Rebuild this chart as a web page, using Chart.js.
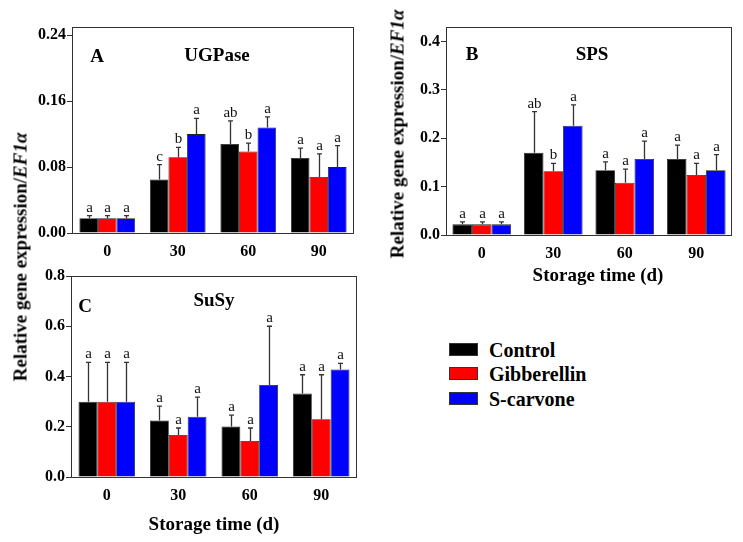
<!DOCTYPE html>
<html>
<head>
<meta charset="utf-8">
<script src="https://cdn.jsdelivr.net/npm/chart.js@4"></script>
<style>
html,body{margin:0;padding:0;background:#fff;}
#wrap{position:relative;width:743px;height:542px;overflow:hidden;font-family:"Liberation Serif","Times New Roman",serif;color:#000;}
canvas{position:absolute;}
.ytitle{position:absolute;white-space:nowrap;font-weight:bold;font-size:19px;line-height:1;transform:translate(-50%,-50%) rotate(-90deg);}
.xtitle{position:absolute;white-space:nowrap;font-weight:bold;font-size:19px;line-height:1;transform:translate(-50%,-50%);}
.legrow{position:absolute;left:449px;height:14px;}
.legbox{position:absolute;left:0;top:0;width:29px;height:13px;border:1px solid #333;box-sizing:border-box;}
.legtxt{position:absolute;left:40px;top:50%;transform:translateY(-50%);font-weight:bold;font-size:20px;white-space:nowrap;line-height:1;}
</style>
</head>
<body>
<div id="wrap">
  <canvas id="cA" width="370" height="260" style="left:0;top:0;"></canvas>
  <canvas id="cB" width="373" height="300" style="left:370px;top:0;"></canvas>
  <canvas id="cC" width="370" height="282" style="left:0;top:260px;"></canvas>
  <div class="ytitle" style="left:20px;top:257px;">Relative gene expression/<i>EF1α</i></div>
  <div class="ytitle" style="left:397px;top:134px;">Relative gene expression/<i>EF1α</i></div>
  <div class="xtitle" style="left:598px;top:274px;">Storage time (d)</div>
  <div class="legrow" style="top:343px;"><div class="legbox" style="background:#000;"></div><div class="legtxt">Control</div></div>
  <div class="legrow" style="top:367px;"><div class="legbox" style="background:#ff0000;"></div><div class="legtxt">Gibberellin</div></div>
  <div class="legrow" style="top:392px;"><div class="legbox" style="background:#0000ff;"></div><div class="legtxt">S-carvone</div></div>
</div>
<script>
// ---------- data ----------
const categories = ['0', '30', '60', '90'];
const seriesNames = ['Control', 'Gibberellin', 'S-carvone'];

// Panel A: UGPase
const ugpControl = [0.018, 0.065, 0.108, 0.091];
const ugpGib     = [0.018, 0.092, 0.099, 0.068];
const ugpCarv    = [0.018, 0.120, 0.128, 0.080];
const ugpControlErr = [0.003, 0.018, 0.028, 0.012];
const ugpGibErr     = [0.003, 0.012, 0.010, 0.028];
const ugpCarvErr    = [0.003, 0.019, 0.013, 0.026];
const ugpControlSig = ['a', 'c', 'ab', 'a'];
const ugpGibSig     = ['a', 'b', 'b', 'a'];
const ugpCarvSig    = ['a', 'a', 'a', 'a'];
const ugpTicks = [0, 0.08, 0.16, 0.24];

// Panel B: SPS
const spsControl = [0.022, 0.170, 0.134, 0.157];
const spsGib     = [0.022, 0.132, 0.108, 0.124];
const spsCarv    = [0.022, 0.226, 0.157, 0.134];
const spsControlErr = [0.005, 0.085, 0.017, 0.029];
const spsGibErr     = [0.005, 0.016, 0.028, 0.024];
const spsCarvErr    = [0.005, 0.043, 0.037, 0.032];
const spsControlSig = ['a', 'ab', 'a', 'a'];
const spsGibSig     = ['a', 'b', 'a', 'a'];
const spsCarvSig    = ['a', 'a', 'a', 'a'];
const spsTicks = [0, 0.1, 0.2, 0.3, 0.4];

// Panel C: SuSy
const susyControl = [0.300, 0.225, 0.201, 0.332];
const susyGib     = [0.300, 0.167, 0.143, 0.230];
const susyCarv    = [0.300, 0.240, 0.366, 0.428];
const susyControlErr = [0.156, 0.057, 0.045, 0.075];
const susyGibErr     = [0.156, 0.028, 0.052, 0.177];
const susyCarvErr    = [0.156, 0.078, 0.234, 0.024];
const susyControlSig = ['a', 'a', 'a', 'a'];
const susyGibSig     = ['a', 'a', 'a', 'a'];
const susyCarvSig    = ['a', 'a', 'a', 'a'];
const susyTicks = [0, 0.2, 0.4, 0.6, 0.8];

const colors = ['#000000', '#ff0000', '#0000ff'];
const FONT = '"Liberation Serif", "Times New Roman", serif';

// ---------- plugins ----------
const errPlugin = {
  id: 'errbars',
  afterDatasetsDraw(chart) {
    const ctx = chart.ctx, ys = chart.scales.y;
    chart.data.datasets.forEach((ds, i) => {
      const meta = chart.getDatasetMeta(i);
      meta.data.forEach((bar, j) => {
        const top = ys.getPixelForValue(ds.data[j] + ds.errors[j]);
        const x = Math.round(bar.x) + 0.5;
        ctx.save();
        ctx.strokeStyle = '#333';
        ctx.lineWidth = 1.3;
        ctx.beginPath();
        ctx.moveTo(x, bar.y);
        ctx.lineTo(x, top);
        ctx.moveTo(x - 2.5, top);
        ctx.lineTo(x + 2.5, top);
        ctx.stroke();
        ctx.fillStyle = '#111';
        ctx.font = '15px ' + FONT;
        ctx.textAlign = 'center';
        ctx.textBaseline = 'alphabetic';
        ctx.fillText(ds.letters[j], x, top - 4);
        ctx.restore();
      });
    });
  }
};

const framePlugin = {
  id: 'frame',
  afterDraw(chart, args, opts) {
    const ctx = chart.ctx, a = chart.chartArea;
    ctx.save();
    ctx.strokeStyle = '#333';
    ctx.lineWidth = 1;
    ctx.strokeRect(Math.round(a.left) + 0.5, Math.round(a.top) + 0.5,
                   Math.round(a.right - a.left) - 1, Math.round(a.bottom - a.top));
    ctx.fillStyle = '#000';
    ctx.font = 'bold 19px ' + FONT;
    ctx.textAlign = 'center';
    ctx.textBaseline = 'alphabetic';
    ctx.fillText(opts.letter, a.left + opts.lx, a.top + opts.ly);
    ctx.fillText(opts.gene, opts.gx, a.top + opts.gy);
    ctx.restore();
  }
};

function makeChart(id, cfg) {
  const datasets = [0, 1, 2].map(k => ({
    label: seriesNames[k],
    data: cfg.values[k],
    errors: cfg.errors[k],
    letters: cfg.letters[k],
    backgroundColor: colors[k],
    borderColor: '#222',
    borderWidth: 0.8,
    categoryPercentage: cfg.catPct,
    barPercentage: 1.0
  }));
  return new Chart(document.getElementById(id), {
    type: 'bar',
    data: { labels: categories, datasets },
    plugins: [errPlugin, framePlugin],
    options: {
      responsive: false,
      animation: false,
      events: [],
      layout: { padding: cfg.padding },
      plugins: {
        legend: { display: false },
        tooltip: { enabled: false },
        frame: cfg.frame
      },
      scales: {
        x: {
          grid: { display: false, drawTicks: false },
          border: { display: false },
          ticks: { color: '#000', padding: 9, font: { family: FONT, size: 16, weight: 'bold' } },
          title: cfg.xTitle ? {
            display: true, text: 'Storage time (d)', color: '#000',
            padding: { top: 0, bottom: cfg.xTitlePad },
            font: { family: FONT, size: 19, weight: 'bold' }
          } : { display: false },
          afterFit(s) { s.height = cfg.xHeight; }
        },
        y: {
          min: 0, max: cfg.yMax,
          grid: { drawOnChartArea: false, drawTicks: true, tickLength: 5, color: '#333' },
          border: { display: false },
          ticks: {
            color: '#000', padding: 1, font: { family: FONT, size: 16, weight: 'bold' },
            callback: v => Number(v).toFixed(cfg.dec)
          },
          afterBuildTicks(s) { s.ticks = cfg.ticks.map(v => ({ value: v })); },
          afterFit(s) { s.width = cfg.yWidth; }
        }
      }
    }
  });
}

makeChart('cA', {
  values: [ugpControl, ugpGib, ugpCarv],
  errors: [ugpControlErr, ugpGibErr, ugpCarvErr],
  letters: [ugpControlSig, ugpGibSig, ugpCarvSig],
  ticks: ugpTicks, yMax: 0.25, dec: 2, catPct: 0.79,
  padding: { top: 27, right: 16, left: 0, bottom: 0 },
  yWidth: 72, xHeight: 27, xTitle: false,
  frame: { letter: 'A', lx: 25, ly: 35, gene: 'UGPase', gx: 217, gy: 34 }
});

makeChart('cB', {
  values: [spsControl, spsGib, spsCarv],
  errors: [spsControlErr, spsGibErr, spsCarvErr],
  letters: [spsControlSig, spsGibSig, spsCarvSig],
  ticks: spsTicks, yMax: 0.43, dec: 1, catPct: 0.82,
  padding: { top: 27, right: 11, left: 0, bottom: 0 },
  yWidth: 76, xHeight: 65, xTitle: false,
  frame: { letter: 'B', lx: 26, ly: 33, gene: 'SPS', gx: 222, gy: 33 }
});

makeChart('cC', {
  values: [susyControl, susyGib, susyCarv],
  errors: [susyControlErr, susyGibErr, susyCarvErr],
  letters: [susyControlSig, susyGibSig, susyCarvSig],
  ticks: susyTicks, yMax: 0.8, dec: 1, catPct: 0.79,
  padding: { top: 16, right: 13, left: 0, bottom: 0 },
  yWidth: 71, xHeight: 65, xTitle: true, xTitlePad: 6,
  frame: { letter: 'C', lx: 14, ly: 36, gene: 'SuSy', gx: 214, gy: 30 }
});
</script>
</body>
</html>
